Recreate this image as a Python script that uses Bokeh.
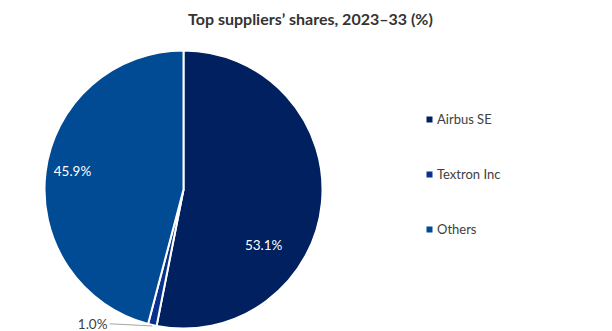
import math
from bokeh.plotting import figure
from bokeh.models import ColumnDataSource, Range1d, Legend, LegendItem
from bokeh.core.properties import value
from bokeh.embed import file_html
from bokeh.resources import INLINE

# ---- data ----
suppliers = ["Airbus SE", "Textron Inc", "Others"]
shares = [53.1, 1.0, 45.9]
labels = ["53.1%", "1.0%", "45.9%"]
title_text = "Top suppliers\u2019 shares, 2023\u201333 (%)"

# ---- styles ----
colors = ["#002060", "#0B318F", "#004B93"]
W, H = 612, 331
cx, cy, R = 183, 142, 139
# label placement in polar terms (angle in degrees, radius fraction) per slice
label_polar = [(-34.5, 0.70), (-119.5, 1.11), (170.4, 0.81)]
label_inside = [True, False, True]
FONT = "Lato"

p = figure(width=W, height=H, output_backend="svg", toolbar_location=None,
           x_range=Range1d(0, W), y_range=Range1d(0, H), min_border=0,
           outline_line_color=None)
p.axis.visible = False
p.grid.visible = False

total = sum(shares)
starts, ends, mids = [], [], []
acc = 0.0
for s in shares:
    a0 = acc / total
    acc += s
    a1 = acc / total
    # clockwise from 12 o'clock -> math angles
    starts.append(math.pi / 2 - 2 * math.pi * a1)
    ends.append(math.pi / 2 - 2 * math.pi * a0)
    mids.append(math.pi / 2 - 2 * math.pi * (a0 + a1) / 2)

items = []
for i, name in enumerate(suppliers):
    src = ColumnDataSource(dict(x=[cx], y=[cy], start=[starts[i]], end=[ends[i]]))
    r = p.wedge(x="x", y="y", radius=R, start_angle="start", end_angle="end",
                direction="anticlock", source=src, fill_color=colors[i],
                line_color="white", line_width=2)
    items.append(LegendItem(label=name, renderers=[r]))

# data labels
for i, lab in enumerate(labels):
    ang, fr = label_polar[i]
    lx = cx + R * fr * math.cos(math.radians(ang))
    ly = cy + R * fr * math.sin(math.radians(ang))
    if label_inside[i]:
        p.text(x=[lx], y=[ly], text=[lab], text_color="white",
               text_font=value(FONT), text_font_size="13.5px",
               text_align="center", text_baseline="middle")
    else:
        ex = cx + R * math.cos(mids[i])
        ey = cy + R * math.sin(mids[i])
        p.line(x=[lx + 2, ex], y=[ly, ey - 1], line_color="#A6A6A6", line_width=1)
        p.text(x=[lx], y=[ly], text=[lab], text_color="#404040",
               text_font=value(FONT), text_font_size="13.5px",
               text_align="right", text_baseline="middle")

# title
p.text(x=[310], y=[H - 18], text=[title_text], text_color="#333333",
       text_font=value(FONT), text_font_size="16px", text_font_style="bold",
       text_align="center", text_baseline="middle")

legend = Legend(items=items, location=(424, 94), orientation="vertical",
                glyph_width=10, glyph_height=10, label_standoff=3,
                label_text_font=FONT, label_text_font_size="13px",
                label_text_color="#404040", label_height=14, spacing=39,
                padding=0, margin=0, border_line_color=None,
                background_fill_alpha=0)
p.add_layout(legend)

open("out.html", "w").write(file_html(p, INLINE))
